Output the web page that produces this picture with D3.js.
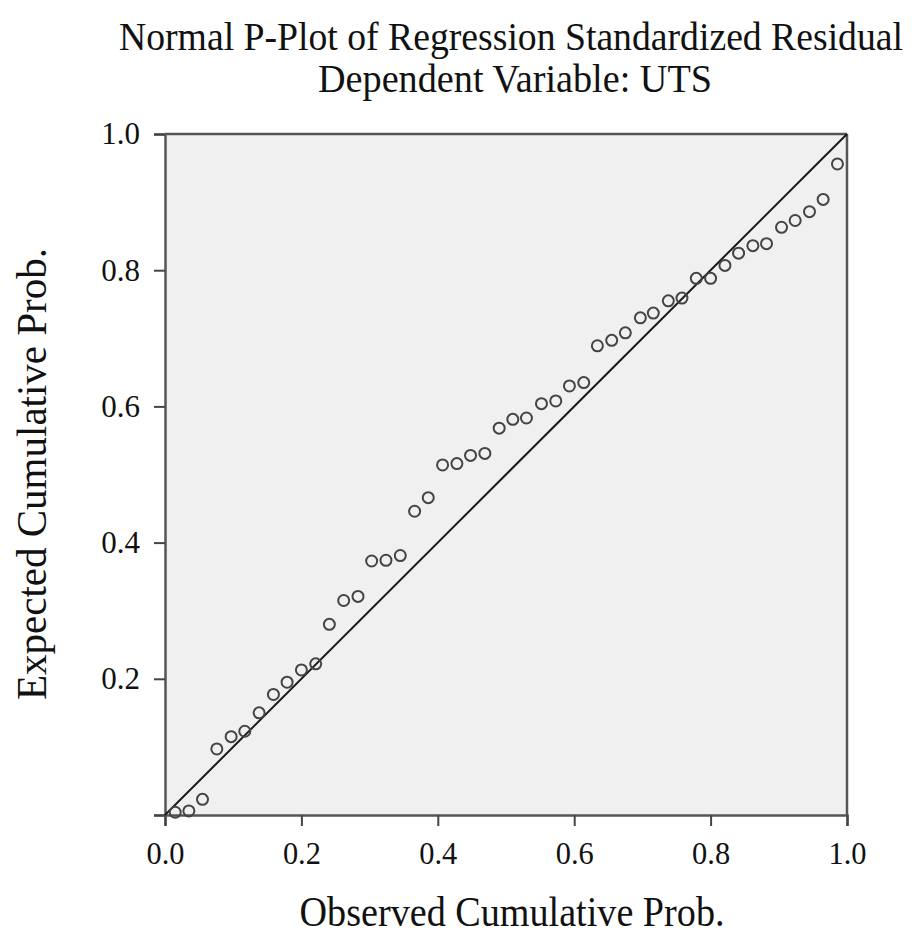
<!DOCTYPE html>
<html>
<head>
<meta charset="utf-8">
<script src="https://cdn.jsdelivr.net/npm/d3@7"></script>
<style>
  html, body { margin: 0; padding: 0; background: #fff; }
  svg { display: block; }
  text { font-family: "Liberation Serif", "Times New Roman", serif; fill: #111; }
</style>
</head>
<body>
<svg id="chart" width="919" height="936"></svg>
<script>
// ---- data ----
const titleLines = ["Normal P-Plot of Regression Standardized Residual", "Dependent Variable: UTS"];
const xLabel = "Observed Cumulative Prob.";
const yLabel = "Expected Cumulative Prob.";
const tickValues = [0.0, 0.2, 0.4, 0.6, 0.8, 1.0];
const xTickLabels = ["0.0", "0.2", "0.4", "0.6", "0.8", "1.0"];
const yTickLabels = ["", "0.2", "0.4", "0.6", "0.8", "1.0"];

const observed = [0.015, 0.035, 0.055, 0.076, 0.097, 0.117, 0.138, 0.159, 0.179, 0.200,
  0.221, 0.241, 0.262, 0.283, 0.303, 0.324, 0.345, 0.366, 0.386, 0.407,
  0.428, 0.448, 0.469, 0.490, 0.510, 0.530, 0.552, 0.573, 0.593, 0.614,
  0.634, 0.655, 0.675, 0.697, 0.716, 0.738, 0.758, 0.779, 0.800, 0.821,
  0.841, 0.862, 0.882, 0.904, 0.924, 0.945, 0.965, 0.986];
const expected = [0.004, 0.006, 0.023, 0.097, 0.115, 0.123, 0.150, 0.177, 0.195, 0.213,
  0.222, 0.280, 0.315, 0.321, 0.373, 0.374, 0.381, 0.446, 0.466, 0.514,
  0.516, 0.528, 0.531, 0.568, 0.581, 0.583, 0.604, 0.608, 0.630, 0.635,
  0.689, 0.697, 0.708, 0.730, 0.737, 0.755, 0.759, 0.788, 0.788, 0.807,
  0.825, 0.836, 0.839, 0.863, 0.873, 0.886, 0.904, 0.956];
const refLine = [[0, 0], [1, 1]];

// ---- layout ----
const svg = d3.select("#chart");
const plot = { left: 165, top: 134, right: 847, bottom: 815 };

const x = d3.scaleLinear().domain([0, 1]).range([plot.left, plot.right]);
const y = d3.scaleLinear().domain([0, 1]).range([plot.bottom, plot.top]);

// plot background
svg.append("rect")
  .attr("x", plot.left).attr("y", plot.top)
  .attr("width", plot.right - plot.left).attr("height", plot.bottom - plot.top)
  .attr("fill", "#f0f0f0");

// frame (top & right)
svg.append("line").attr("x1", plot.left).attr("x2", plot.right)
  .attr("y1", plot.top).attr("y2", plot.top)
  .attr("stroke", "#555").attr("stroke-width", 2.5);
svg.append("line").attr("x1", plot.right).attr("x2", plot.right)
  .attr("y1", plot.top).attr("y2", plot.bottom)
  .attr("stroke", "#555").attr("stroke-width", 2.5);

// axes
const xAxis = d3.axisBottom(x).tickValues(tickValues).tickSize(11).tickPadding(15)
  .tickFormat((d, i) => xTickLabels[i]);
const yAxis = d3.axisLeft(y).tickValues(tickValues).tickSize(11).tickPadding(14)
  .tickFormat((d, i) => yTickLabels[i]);

const gx = svg.append("g").attr("transform", `translate(0,${plot.bottom})`).call(xAxis);
const gy = svg.append("g").attr("transform", `translate(${plot.left},0)`).call(yAxis);

[gx, gy].forEach(g => {
  g.select(".domain").attr("stroke", "#555").attr("stroke-width", 2.5);
  g.selectAll(".tick line").attr("stroke", "#444").attr("stroke-width", 2);
  g.selectAll(".tick text").attr("fill", "#111")
    .attr("font-family", '"Liberation Serif", "Times New Roman", serif');
});
gx.selectAll(".tick text").attr("font-size", 32)
  .attr("textLength", 38).attr("lengthAdjust", "spacingAndGlyphs");
gy.selectAll(".tick text").attr("font-size", 31);

// reference line
svg.append("line")
  .attr("x1", x(refLine[0][0])).attr("y1", y(refLine[0][1]))
  .attr("x2", x(refLine[1][0])).attr("y2", y(refLine[1][1]))
  .attr("stroke", "#1a1a1a").attr("stroke-width", 2);

// points
svg.append("g").selectAll("circle")
  .data(observed.map((o, i) => [o, expected[i]]))
  .join("circle")
  .attr("cx", d => x(d[0]))
  .attr("cy", d => y(d[1]))
  .attr("r", 5.5)
  .attr("fill", "none")
  .attr("stroke", "#444")
  .attr("stroke-width", 2);

// titles (condensed serif, vertically stretched)
svg.append("text").attr("transform", "translate(511,50) scale(1,1.11)")
  .attr("text-anchor", "middle").attr("font-size", 36)
  .attr("textLength", 784).attr("lengthAdjust", "spacingAndGlyphs")
  .text(titleLines[0]);
svg.append("text").attr("transform", "translate(515,92) scale(1,1.11)")
  .attr("text-anchor", "middle").attr("font-size", 36)
  .attr("textLength", 394).attr("lengthAdjust", "spacingAndGlyphs")
  .text(titleLines[1]);

// axis labels
svg.append("text").attr("x", 512).attr("y", 926)
  .attr("text-anchor", "middle").attr("font-size", 42)
  .attr("textLength", 425).attr("lengthAdjust", "spacingAndGlyphs")
  .text(xLabel);
svg.append("text")
  .attr("transform", `translate(46,474) rotate(-90)`)
  .attr("text-anchor", "middle").attr("font-size", 42)
  .attr("textLength", 452).attr("lengthAdjust", "spacingAndGlyphs")
  .text(yLabel);
</script>
</body>
</html>
